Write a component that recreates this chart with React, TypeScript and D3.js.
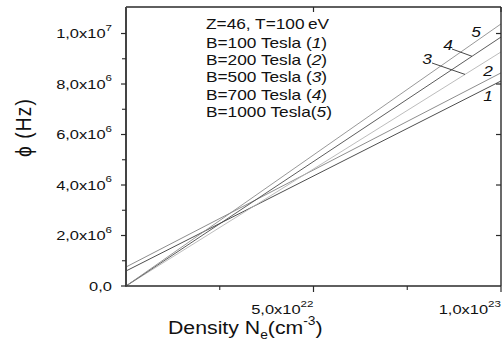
import React from "react";
import * as d3 from "d3";

// ---- data ----
const xValues = [0, 1e23];
const series1 = [0.594e6, 8.12e6];
const series2 = [0.752e6, 8.44e6];
const series3 = [0, 9.27e6];
const series4 = [0, 9.86e6];
const series5 = [0, 10.38e6];
const seriesIds = ["1", "2", "3", "4", "5"];
const seriesFields = ["100", "200", "500", "700", "1000"];
const headerText = "Z=46, T=100\u2009eV";

const yTickValues = [0, 2e6, 4e6, 6e6, 8e6, 1e7];
const yTickMantissas = ["0,0", "2,0", "4,0", "6,0", "8,0", "1,0"];
const yTickExponents = ["", "6", "6", "6", "6", "7"];
const yMinorTicks = [1e6, 3e6, 5e6, 7e6, 9e6];

const xTickValues = [5e22, 1e23];
const xTickMantissas = ["5,0", "1,0"];
const xTickExponents = ["22", "23"];
const xMinorTicks = [2.5e22, 7.5e22];

// ---- styling / layout ----
const W = 502;
const H = 345;
const left = 126;
const right = 501;
const top = 7;
const bottom = 286;
const FONT = "'Liberation Sans', Arial, Helvetica, sans-serif";
const colors = ["#3a3a3a", "#808080", "#b4b4b4", "#4a4a4a", "#8c8c8c"];
const axisColor = "#2a2a2a";

export default function App() {
  const x = d3.scaleLinear().domain([0, 1e23]).range([left, right]);
  const y = d3.scaleLinear().domain([0, 1.105e7]).range([bottom, top]);
  const allSeries = [series1, series2, series3, series4, series5];
  const line = d3
    .line<number>()
    .x((_, i) => x(xValues[i]))
    .y((d) => y(d));

  const valueAt = (s: number[], px: number) =>
    y(d3.scaleLinear().domain(xValues).range(s)(x.invert(px)));

  const sx = 1.22;

  // annotation label positions (pixel layout)
  const idLabels = [
    { id: "1", x: 488, y: 101 },
    { id: "2", x: 488, y: 76 },
    { id: "3", x: 427, y: 64 },
    { id: "4", x: 448, y: 50 },
    { id: "5", x: 476, y: 37 },
  ];
  const leaders = [
    { s: series4, x1: 452, y1: 49, x2: 472 },
    { s: series3, x1: 432, y1: 63, x2: 465 },
  ];

  return (
    <svg
      width={W}
      height={H}
      style={{ position: "absolute", left: 0, top: 0, background: "#fff" }}
      fontFamily={FONT}
    >
      <rect x={0} y={0} width={W} height={H} fill="#fff" />

      {/* series lines */}
      {allSeries.map((s, i) => (
        <path
          key={i}
          d={line(s) || ""}
          fill="none"
          stroke={colors[i]}
          strokeWidth={0.9}
        />
      ))}

      {/* frame */}
      <line x1={left} x2={right} y1={top} y2={top} stroke={axisColor} strokeWidth={1.4} />
      <line x1={right} x2={right} y1={top} y2={bottom} stroke={axisColor} strokeWidth={1.4} />
      <line x1={left} x2={right} y1={bottom} y2={bottom} stroke={axisColor} strokeWidth={1.5} />
      <line x1={left} x2={left} y1={top} y2={bottom + 0.7} stroke="#444" strokeWidth={2} />

      {/* y ticks */}
      {yTickValues.map((v, i) => (
        <g key={"yt" + i}>
          <line x1={left - 5} x2={left} y1={y(v)} y2={y(v)} stroke={axisColor} strokeWidth={1.2} />
          {v > 0 && (
            <line x1={right - 5} x2={right} y1={y(v)} y2={y(v)} stroke={axisColor} strokeWidth={1.2} />
          )}
          <text
            transform={`translate(112,${y(v) + 4.8}) scale(${sx},1)`}
            textAnchor="end"
            fontSize={13.5}
            fill="#111"
          >
            {yTickExponents[i] ? `${yTickMantissas[i]}x10` : yTickMantissas[i]}
            {yTickExponents[i] && (
              <tspan fontSize={9.5} dy={-7.5}>
                {yTickExponents[i]}
              </tspan>
            )}
          </text>
        </g>
      ))}
      {yMinorTicks.map((v, i) => (
        <line key={"ym" + i} x1={left - 4} x2={left} y1={y(v)} y2={y(v)} stroke={axisColor} strokeWidth={1.1} />
      ))}

      {/* x ticks */}
      {xTickValues.map((v, i) => (
        <g key={"xt" + i}>
          <line x1={x(v)} x2={x(v)} y1={bottom} y2={bottom + 6} stroke={axisColor} strokeWidth={1.2} />
          <line x1={x(v)} x2={x(v)} y1={top} y2={top + 5} stroke={axisColor} strokeWidth={1.2} />
          <text
            transform={`translate(${x(v)},314) scale(${sx},1)`}
            textAnchor="end"
            fontSize={13.5}
            fill="#111"
          >
            {`${xTickMantissas[i]}x10`}
            <tspan fontSize={9.5} dy={-7.5}>
              {xTickExponents[i]}
            </tspan>
          </text>
        </g>
      ))}
      {xMinorTicks.map((v, i) => (
        <line key={"xm" + i} x1={x(v)} x2={x(v)} y1={bottom} y2={bottom + 4} stroke={axisColor} strokeWidth={1.1} />
      ))}

      {/* axis titles */}
      <text
        transform={`translate(168,333.5) scale(1.15,1)`}
        fontSize={18.5}
        fill="#111"
      >
        Density N
        <tspan fontSize={12} dy={5}>e</tspan>
        <tspan dy={-5}>(cm</tspan>
        <tspan fontSize={12} dy={-9}>-3</tspan>
        <tspan dy={9}>)</tspan>
      </text>
      <text
        transform={`translate(31,127.5) rotate(-90) scale(1,1.18)`}
        textAnchor="middle"
        fontSize={19}
        letterSpacing={1.2}
        fill="#111"
      >
        {"\u03d5 (Hz)"}
      </text>

      {/* legend text */}
      <g fontSize={14.4} fill="#111">
        <text transform={`translate(206,29) scale(1.2,1)`}>{headerText}</text>
        {seriesFields.map((b, i) => (
          <text key={"lg" + i} transform={`translate(206,${48 + i * 17.2}) scale(1.2,1)`}>
            {`B=${b} Tesla${b.length > 3 ? "" : " "}(`}
            <tspan fontStyle="italic">{seriesIds[i]}</tspan>
            {")"}
          </text>
        ))}
      </g>

      {/* line id labels with leaders */}
      {leaders.map((l, i) => (
        <line
          key={"ld" + i}
          x1={l.x1}
          y1={l.y1}
          x2={l.x2}
          y2={valueAt(l.s, l.x2)}
          stroke="#333"
          strokeWidth={0.9}
        />
      ))}
      {idLabels.map((l) => (
        <text
          key={"id" + l.id}
          transform={`translate(${l.x},${l.y}) scale(1.2,1)`}
          textAnchor="middle"
          fontSize={14.4}
          fontStyle="italic"
          fill="#111"
        >
          {l.id}
        </text>
      ))}
    </svg>
  );
}
